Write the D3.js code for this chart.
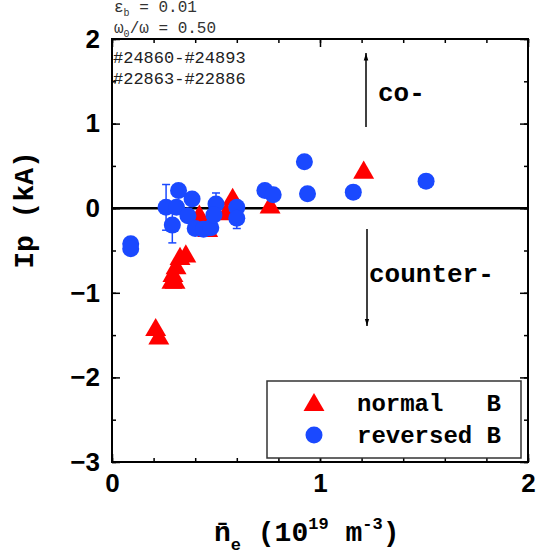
<!DOCTYPE html>
<html><head><meta charset="utf-8">
<script src="https://cdn.jsdelivr.net/npm/d3@7/dist/d3.min.js"></script>
<style>
html,body{margin:0;padding:0;background:#fff;}
svg{display:block;}
</style></head>
<body>
<svg id="chart" width="538" height="558"></svg>
<script>
// ---- data ----
const normalX = [0.21, 0.225, 0.355, 0.327, 0.308, 0.293, 0.288, 0.303, 0.42, 0.46, 0.55, 0.58, 0.76, 1.21];
const normalY = [-1.44, -1.54, -0.57, -0.60, -0.71, -0.80, -0.88, -0.88, -0.10, -0.27, -0.07, 0.10, 0.01, 0.42];
const reversedX = [0.09, 0.09, 0.26, 0.32, 0.31, 0.29, 0.385, 0.365, 0.40, 0.44, 0.475, 0.50, 0.49, 0.60, 0.60, 0.735, 0.775, 0.925, 0.94, 1.16, 1.51];
const reversedY = [-0.42, -0.48, 0.01, 0.21, 0.01, -0.20, 0.11, -0.09, -0.24, -0.25, -0.23, 0.05, -0.08, 0.01, -0.12, 0.21, 0.16, 0.55, 0.17, 0.19, 0.32];
const reversedErr = [0, 0, 0.27, 0, 0, 0.21, 0, 0, 0, 0, 0, 0.13, 0, 0, 0.12, 0, 0, 0, 0, 0, 0];
const xMajorTicks = [0, 1, 2];
const yMajorTicks = [-3, -2, -1, 0, 1, 2];
const xMinorTicks = d3.range(0, 2.0001, 0.2).map(v => +v.toFixed(1));
const yMinorTicks = d3.range(-3, 2.0001, 0.5);
const legendLabels = ["normal   B", "reversed B"];

const RED = "#ff0000", BLUE = "#1a49ff";
const svg = d3.select("#chart");
const L = 112, R = 528, T = 39, B = 462;
const x = d3.scaleLinear().domain([0, 2]).range([L, R]);
const y = d3.scaleLinear().domain([-3, 2]).range([B, T]);

const mono = "'Liberation Mono','Courier New',monospace";
const sans = "'Liberation Sans',Arial,sans-serif";

// zero line
svg.append("line").attr("x1", L).attr("x2", R).attr("y1", y(0)).attr("y2", y(0))
  .attr("stroke", "#000").attr("stroke-width", 2.5);

// axes
function styleAxis(g){ g.select(".domain").remove(); g.selectAll(".tick line").attr("stroke","#000").attr("stroke-width",1.5); }
svg.append("g").attr("transform", `translate(0,${B})`)
  .call(d3.axisBottom(x).tickValues(xMajorTicks).tickSizeInner(-8).tickSizeOuter(0).tickPadding(12).tickFormat(d3.format("d")))
  .call(styleAxis)
  .call(g => g.selectAll("text").attr("font-family", sans).attr("font-weight", "bold").attr("font-size", 26).attr("fill","#000"));
svg.append("g").attr("transform", `translate(0,${B})`)
  .call(d3.axisBottom(x).tickValues(xMinorTicks).tickSizeInner(-4).tickSizeOuter(0).tickFormat(""))
  .call(styleAxis);
svg.append("g").attr("transform", `translate(0,${T})`)
  .call(d3.axisTop(x).tickValues(xMajorTicks).tickSizeInner(-8).tickSizeOuter(0).tickFormat(""))
  .call(styleAxis);
svg.append("g").attr("transform", `translate(0,${T})`)
  .call(d3.axisTop(x).tickValues(xMinorTicks).tickSizeInner(-4).tickSizeOuter(0).tickFormat(""))
  .call(styleAxis);
svg.append("g").attr("transform", `translate(${L},0)`)
  .call(d3.axisLeft(y).tickValues(yMajorTicks).tickSizeInner(-8).tickSizeOuter(0).tickPadding(12).tickFormat(d3.format("d")))
  .call(styleAxis)
  .call(g => g.selectAll("text").attr("font-family", sans).attr("font-weight", "bold").attr("font-size", 26).attr("fill","#000"));
svg.append("g").attr("transform", `translate(${L},0)`)
  .call(d3.axisLeft(y).tickValues(yMinorTicks).tickSizeInner(-4).tickSizeOuter(0).tickFormat(""))
  .call(styleAxis);
svg.append("g").attr("transform", `translate(${R},0)`)
  .call(d3.axisRight(y).tickValues(yMajorTicks).tickSizeInner(-8).tickSizeOuter(0).tickFormat(""))
  .call(styleAxis);
svg.append("g").attr("transform", `translate(${R},0)`)
  .call(d3.axisRight(y).tickValues(yMinorTicks).tickSizeInner(-4).tickSizeOuter(0).tickFormat(""))
  .call(styleAxis);

// frame
svg.append("rect").attr("x", L).attr("y", T).attr("width", R - L).attr("height", B - T)
  .attr("fill", "none").attr("stroke", "#000").attr("stroke-width", 2);

// data: triangles first
const tri = d3.symbol().type(d3.symbolTriangle).size(190);
const normal = normalX.map((v, i) => ({x: v, y: normalY[i]}));
svg.append("g").selectAll("path").data(normal).join("path")
  .attr("d", tri).attr("fill", RED)
  .attr("transform", d => `translate(${x(d.x)},${y(d.y)})`);

const reversed = reversedX.map((v, i) => ({x: v, y: reversedY[i], e: reversedErr[i]}));
const eb = svg.append("g").attr("stroke", BLUE).attr("stroke-width", 1.5);
reversed.filter(d => d.e > 0).forEach(d => {
  eb.append("line").attr("x1", x(d.x)).attr("x2", x(d.x)).attr("y1", y(d.y - d.e)).attr("y2", y(d.y + d.e));
  eb.append("line").attr("x1", x(d.x) - 4).attr("x2", x(d.x) + 4).attr("y1", y(d.y - d.e)).attr("y2", y(d.y - d.e));
  eb.append("line").attr("x1", x(d.x) - 4).attr("x2", x(d.x) + 4).attr("y1", y(d.y + d.e)).attr("y2", y(d.y + d.e));
});
svg.append("g").selectAll("circle").data(reversed).join("circle")
  .attr("cx", d => x(d.x)).attr("cy", d => y(d.y)).attr("r", 8.5).attr("fill", BLUE);

// arrows
const defs = svg.append("defs");
defs.append("marker").attr("id", "ah").attr("viewBox", "0 0 10 10").attr("refX", 10).attr("refY", 5)
  .attr("markerWidth", 5).attr("markerHeight", 5).attr("orient", "auto-start-reverse").attr("markerUnits","strokeWidth")
  .append("path").attr("d", "M0,2 L10,5 L0,8 Z").attr("fill", "#000");
svg.append("line").attr("x1", 366).attr("x2", 366).attr("y1", 127).attr("y2", 53)
  .attr("stroke", "#000").attr("stroke-width", 1.5).attr("marker-end", "url(#ah)");
svg.append("line").attr("x1", 367).attr("x2", 367).attr("y1", 229).attr("y2", 326)
  .attr("stroke", "#000").attr("stroke-width", 1.5).attr("marker-end", "url(#ah)");
svg.append("text").attr("x", 378).attr("y", 101).attr("font-family", mono).attr("font-weight", "bold")
  .attr("font-size", 26).text("co-");
svg.append("text").attr("x", 369).attr("y", 282).attr("font-family", mono).attr("font-weight", "bold")
  .attr("font-size", 26).text("counter-");

// annotations top-left
const ann = svg.append("g").attr("font-family", mono).attr("fill", "#333").attr("font-size", 16);
const a1 = ann.append("text").attr("x", 114).attr("y", 12);
a1.append("tspan").text("ε");
a1.append("tspan").attr("font-size", 10).attr("dy", 4).text("b");
a1.append("tspan").attr("dy", -4).text(" = 0.01");
const a2 = ann.append("text").attr("x", 114).attr("y", 33);
a2.append("tspan").text("ω");
a2.append("tspan").attr("font-size", 10).attr("dy", 4).text("0");
a2.append("tspan").attr("dy", -4).text("/ω = 0.50");
ann.append("text").attr("x", 113).attr("y", 63).attr("font-size", 17).attr("fill", "#222").text("#24860-#24893");
ann.append("text").attr("x", 113).attr("y", 84).attr("font-size", 17).attr("fill", "#222").text("#22863-#22886");

// axis titles
svg.append("text").attr("transform", "translate(33,210) rotate(-90)").attr("text-anchor", "middle")
  .attr("font-family", mono).attr("font-weight", "bold").attr("font-size", 28).text("Ip (kA)");
const xt = svg.append("text").attr("x", 214).attr("y", 541)
  .attr("font-family", mono).attr("font-weight", "bold").attr("font-size", 28);
xt.append("tspan").text("n\u0304");
xt.append("tspan").attr("font-size", 17).attr("dy", 9).text("e");
xt.append("tspan").attr("dy", -9).text(" (10");
xt.append("tspan").attr("font-size", 17).attr("dy", -12).text("19");
xt.append("tspan").attr("dy", 12).text(" m");
xt.append("tspan").attr("font-size", 17).attr("dy", -12).text("-3");
xt.append("tspan").attr("dy", 12).text(")");

// legend
const lg = svg.append("g");
lg.append("rect").attr("x", 267).attr("y", 381).attr("width", 254).attr("height", 77)
  .attr("fill", "#fff").attr("stroke", "#333").attr("stroke-width", 1.5);
lg.append("path").attr("d", tri).attr("fill", RED).attr("transform", "translate(314,405)");
lg.append("circle").attr("cx", 314).attr("cy", 435).attr("r", 8.5).attr("fill", BLUE);
lg.selectAll("text.lab").data(legendLabels).join("text").attr("class","lab")
  .attr("x", 357).attr("y", (d, i) => 411 + i * 32)
  .attr("font-family", mono).attr("font-weight", "bold").attr("font-size", 24)
  .attr("xml:space", "preserve").style("white-space", "pre").text(d => d);
</script>
</body></html>
